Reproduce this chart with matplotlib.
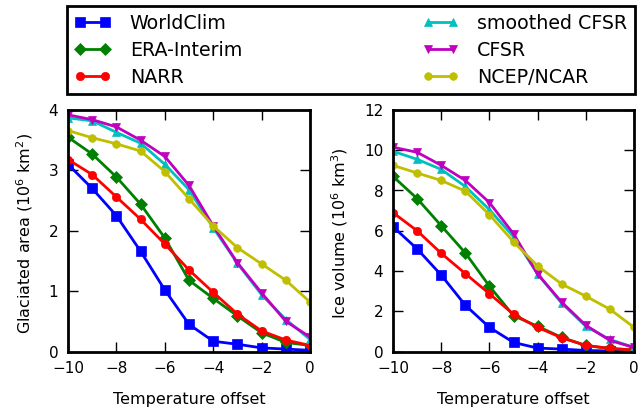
import matplotlib
matplotlib.use('Agg')
import matplotlib.pyplot as plt

offset = [-10, -9, -8, -7, -6, -5, -4, -3, -2, -1, 0]
names = ['WorldClim', 'ERA-Interim', 'NARR', 'smoothed CFSR', 'CFSR', 'NCEP/NCAR']

# glaciated area (10^6 km2)
area_worldclim = [3.10, 2.70, 2.25, 1.66, 1.02, 0.45, 0.17, 0.12, 0.06, 0.04, 0.02]
area_era = [3.55, 3.27, 2.89, 2.44, 1.88, 1.18, 0.88, 0.59, 0.31, 0.15, 0.10]
area_narr = [3.18, 2.93, 2.56, 2.19, 1.78, 1.35, 0.98, 0.62, 0.34, 0.19, 0.10]
area_smooth = [3.87, 3.82, 3.63, 3.45, 3.10, 2.68, 2.05, 1.46, 0.94, 0.53, 0.20]
area_cfsr = [3.92, 3.84, 3.72, 3.50, 3.23, 2.75, 2.08, 1.47, 0.97, 0.50, 0.24]
area_ncep = [3.66, 3.54, 3.44, 3.32, 2.98, 2.53, 2.08, 1.72, 1.45, 1.18, 0.82]

# ice volume (10^6 km3)
vol_worldclim = [6.20, 5.10, 3.80, 2.30, 1.20, 0.45, 0.17, 0.12, 0.05, 0.03, 0.02]
vol_era = [8.70, 7.60, 6.25, 4.90, 3.25, 1.78, 1.25, 0.70, 0.30, 0.15, 0.08]
vol_narr = [6.90, 6.00, 4.88, 3.87, 2.87, 1.85, 1.20, 0.68, 0.30, 0.15, 0.07]
vol_smooth = [9.95, 9.55, 9.05, 8.20, 7.05, 5.70, 3.85, 2.40, 1.25, 0.60, 0.20]
vol_cfsr = [10.15, 9.90, 9.25, 8.50, 7.40, 5.85, 3.85, 2.45, 1.30, 0.55, 0.20]
vol_ncep = [9.25, 8.87, 8.50, 7.97, 6.80, 5.45, 4.25, 3.35, 2.75, 2.10, 1.20]

area_series = [area_worldclim, area_era, area_narr, area_smooth, area_cfsr, area_ncep]
vol_series = [vol_worldclim, vol_era, vol_narr, vol_smooth, vol_cfsr, vol_ncep]

cores = ['#0000ff', '#008000', '#ff0000', '#00bfbf', '#bf00bf', '#bfbf00']
marcas = ['s', 'D', 'o', '^', 'v', 'o']
tamanhos = [6.5, 6, 6, 6, 6, 5.5]

plt.rcParams['mathtext.default'] = 'regular'

W, H = 640, 411
fig = plt.figure(figsize=(W / 100, H / 100), dpi=100)
ax1 = fig.add_axes([68 / W, 1 - 351.5 / H, 242 / W, 241.5 / H])
ax2 = fig.add_axes([393 / W, 1 - 351.5 / H, 241 / W, 241.5 / H])


def desenhar(ax, series, ymax, yticks, ylabel, xlab_y):
    linhas = []
    for vals, c, m, s, nome in zip(series, cores, marcas, tamanhos, names):
        l, = ax.plot(offset, vals, color=c, marker=m, markersize=s,
                     markeredgewidth=0.5, markeredgecolor=c,
                     linewidth=2, label=nome)
        linhas.append(l)
    ax.set_xlim(-10, 0)
    ax.set_ylim(0, ymax)
    ax.set_xticks([-10, -8, -6, -4, -2, 0])
    ax.set_yticks(yticks)
    ax.tick_params(direction='in', top=True, right=True, length=7, width=1,
                   labelsize=11, pad=7)
    ax.set_xlabel('Temperature offset', fontsize=11.5, labelpad=11)
    ax.set_ylabel(ylabel, fontsize=11.5)
    ax.yaxis.set_label_coords(xlab_y, 0.49)
    for sp in ax.spines.values():
        sp.set_linewidth(2)
    return linhas


linhas = desenhar(ax1, area_series, 4, [0, 1, 2, 3, 4],
                  r'Glaciated area ($10^6$ km$^2$)', -0.137)
desenhar(ax2, vol_series, 12, [0, 2, 4, 6, 8, 10, 12],
         r'Ice volume ($10^6$ km$^3$)', -0.178)

leg = fig.legend(handles=linhas, ncol=2, numpoints=2, fontsize=13.7,
                 loc='lower left', bbox_to_anchor=(67 / W, 1 - 94.5 / H, 568 / W, 89 / H),
                 mode='expand', fancybox=False, framealpha=1, edgecolor='k',
                 borderaxespad=0, labelspacing=0.42, handlelength=1.9,
                 handletextpad=1.0, borderpad=0.4)
leg.get_frame().set_linewidth(2)

plt.savefig('out.png', dpi=100)
